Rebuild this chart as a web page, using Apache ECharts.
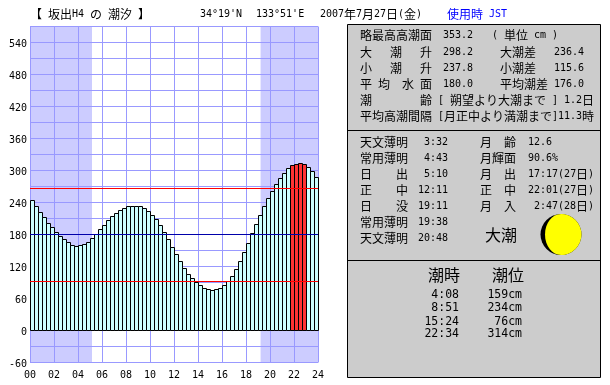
<!DOCTYPE html>
<html><head><meta charset="utf-8">
<script src="https://cdn.jsdelivr.net/npm/echarts@6/dist/echarts.min.js"></script>
<style>html,body{margin:0;padding:0;background:#fff}#c{width:610px;height:385px}</style></head>
<body><div id="c"></div>
<script>
// tide height every 20 minutes (cm)
var tide = [244,232,221,212,200,193,184,176,171,165,159,157,159,161,165,172,180,189,197,206,214,219,225,229,
            232,232,232,232,229,223,216,208,197,184,171,156,142,129,116,105,97,90,84,79,77,75,77,79,
            84,92,101,114,130,147,163,182,199,216,232,247,261,274,285,294,304,309,311,313,311,306,298,287];
var highlightFrom = 65, highlightTo = 68;
var refLinesRed = [266, 92];
var refLineBlue = [180];
var sunrise = 5 + 10/60, sunset = 19 + 13/60;

var titleRow = [[30,13,"【 坂出H4 の 潮汐 】"],[200,13,"34°19'N"],[256,13,"133°51'E"],[320,13,"2007年7月27日(金)"]];
var unitRow = [[447,13,"使用時 JST"]];
var panel1 = [
 [360,34,"略最高高潮面"],[443,34,"353.2"],[492,34,"( 単位 cm )"],
 [360,51,"大   潮   升"],[443,51,"298.2"],[500,51,"大潮差"],[554,51,"236.4"],
 [360,67,"小   潮   升"],[443,67,"237.8"],[500,67,"小潮差"],[554,67,"115.6"],
 [360,83,"平 均  水 面"],[443,83,"180.0"],[500,83,"平均潮差"],[554,83,"176.0"],
 [360,99,"潮        齢"],[438,99,"[ 朔望より大潮まで ] 1.2日"],
 [360,115,"平均高潮間隔"],[438,115,"[月正中より満潮まで]11.3時"]
];
var panel2 = [
 [360,141,"天文薄明"],[424,141,"3:32"],[480,141,"月  齢"],[528,141,"12.6"],
 [360,157,"常用薄明"],[424,157,"4:43"],[480,157,"月輝面"],[528,157,"90.6%"],
 [360,173,"日    出"],[424,173,"5:10"],[480,173,"月  出"],[528,173,"17:17(27日)"],
 [360,189,"正    中"],[418,189,"12:11"],[480,189,"正  中"],[528,189,"22:01(27日)"],
 [360,205,"日    没"],[418,205,"19:11"],[480,205,"月  入"],[534,205,"2:47(28日)"],
 [360,221,"常用薄明"],[418,221,"19:38"],
 [360,237,"天文薄明"],[418,237,"20:48"]
];
var springLabel = "大潮";
var tideHeaders = ["潮時","潮位"];
var tideTimes = ["4:08","8:51","15:24","22:34"];
var tideLevels = ["159cm","234cm","76cm","314cm"];
var tideRowY = [294,307,321,333];

var CJK = '"Noto Sans CJK JP"', MONO = '"DejaVu Sans Mono"';
function isHalf(ch){ return ch.charCodeAt(0) < 0x2000 ; }
function textRuns(x, y, str, color, halfSize, cjkSize, halfAdv){
  var out = [], i = 0, cx = x; halfSize = halfSize||10; cjkSize = cjkSize||12; halfAdv = halfAdv||6;
  while (i < str.length) {
    var half = isHalf(str[i]), j = i;
    while (j < str.length && isHalf(str[j]) === half) j++;
    var run = str.slice(i, j);
    var trimmed = run.replace(/^ +/, ''), lead = run.length - trimmed.length;
    if (trimmed.replace(/ +$/,'').length) {
      out.push({type:'text', x: cx + lead*(half?halfAdv:cjkSize), y: y+1, silent:true, z:10,
        style:{text: trimmed.replace(/ +$/,''), fill: color||'#000', textAlign:'left', textVerticalAlign:'middle',
               font: (half?halfSize:cjkSize)+'px '+(half?MONO:CJK)}});
    }
    cx += run.length*(half?halfAdv:cjkSize);
    i = j;
  }
  return out;
}
var g = [];
g.push({type:'rect', z:5, shape:{x:347.5,y:24.5,width:253,height:353}, style:{fill:'#cccccc',stroke:'#000',lineWidth:1}});
g.push({type:'line', z:6, shape:{x1:347.5,y1:130.5,x2:600.5,y2:130.5}, style:{stroke:'#000',lineWidth:1}});
g.push({type:'line', z:6, shape:{x1:347.5,y1:260.5,x2:600.5,y2:260.5}, style:{stroke:'#000',lineWidth:1}});
titleRow.concat(panel1, panel2).forEach(function(r){ g = g.concat(textRuns(r[0],r[1],r[2])); });
unitRow.forEach(function(r){ g = g.concat(textRuns(r[0],r[1],r[2],'#0000ff')); });
g = g.concat(textRuns(485,234,springLabel,'#000',10,16));
g = g.concat(textRuns(428,274,tideHeaders[0],'#000',10,16));
g = g.concat(textRuns(492,274,tideHeaders[1],'#000',10,16));
tideTimes.forEach(function(t,i){
  g.push({type:'text',z:10,x:459,y:tideRowY[i]+1,style:{text:t,fill:'#000',textAlign:'right',textVerticalAlign:'middle',font:'11.5px '+MONO}});
});
tideLevels.forEach(function(t,i){
  g.push({type:'text',z:10,x:522,y:tideRowY[i]+1,style:{text:t,fill:'#000',textAlign:'right',textVerticalAlign:'middle',font:'11.5px '+MONO}});
});
// moon
g.push({type:'circle',z:7,shape:{cx:561,cy:234.5,r:20.5},style:{fill:'#000'}});
g.push({type:'ellipse',z:8,shape:{cx:561,cy:234.5,rx:16,ry:20.5},style:{fill:'#ffff00'}});
g.push({type:'sector',z:8,shape:{cx:561,cy:234.5,r:20.5,r0:0,startAngle:-Math.PI/2,endAngle:Math.PI/2},style:{fill:'#ffff00'}});

var barData = tide.map(function(v,i){ return [i/3, v, i]; });
var chart = echarts.init(document.getElementById('c'), null, {renderer:'canvas'});
var gridLine = {show:true, lineStyle:{color:'#9999ff', width:1}};
function renderBar(params, api){
  var h = api.value(0), v = api.value(1), i = api.value(2);
  var a = api.coord([h, v]), b = api.coord([h + 1/3, 0]);
  var x0 = Math.round(a[0]) + 0.5, x1 = Math.round(b[0]) + 0.5;
  var y0 = Math.floor(a[1]) + 0.5, y1 = Math.floor(b[1]) + 0.5;
  return {type:'rect', shape:{x:x0, y:y0, width:x1-x0, height:y1-y0},
    style:{fill:(i>=highlightFrom&&i<=highlightTo)?'#ff3333':'#ccffff', stroke:'#000', lineWidth:1}};
}
chart.setOption({
  animation:false, backgroundColor:'#fff',
  textStyle:{fontFamily:MONO},
  graphic:g,
  grid:{left:30, top:26.5, width:288, height:336, containLabel:false},
  xAxis:{type:'value', min:0, max:24, interval:2, z:1, position:'bottom',
     axisLine:{show:false}, axisTick:{show:false}, splitLine:gridLine,
     axisLabel:{color:'#000', fontSize:10, fontFamily:MONO, margin:8, hideOverlap:false, showMinLabel:true, showMaxLabel:true,
       formatter:function(v){ return (v<10?'0':'')+v; }}},
  yAxis:{type:'value', min:-60, max:570, interval:30, z:1,
     axisLine:{show:false}, axisTick:{show:false}, splitLine:gridLine,
     axisLabel:{color:'#000', fontSize:10, fontFamily:MONO, margin:3, verticalAlign:'top', lineHeight:3,
       formatter:function(v){ return v%60===0 ? String(v) : ''; }}},
  series:[
    {type:'line', z:0, data:[], silent:true,
     markArea:{z:0, silent:true, itemStyle:{color:'#ccccff',opacity:1}, label:{show:false},
       data:[[{xAxis:0},{xAxis:sunrise}],[{xAxis:sunset},{xAxis:24}]]}},
    {type:'custom', z:2, silent:true, clip:false, renderItem:renderBar, data:barData, encode:{x:0,y:1}},
    {type:'line', z:3, data:[], silent:true,
     markLine:{silent:true, symbol:'none', label:{show:false}, lineStyle:{color:'#ff0000',width:1,type:'solid'},
       data:refLinesRed.map(function(v){return {yAxis:v};})}},
    {type:'line', z:3, data:[], silent:true,
     markLine:{silent:true, symbol:'none', label:{show:false}, lineStyle:{color:'#0000aa',width:1,type:'solid'},
       data:refLineBlue.map(function(v){return {yAxis:v};})}}
  ]
});
</script></body></html>
